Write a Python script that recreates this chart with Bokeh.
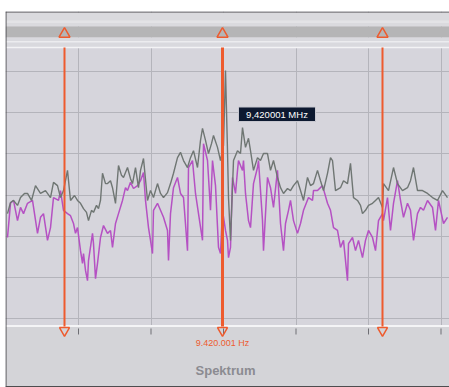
from bokeh.plotting import figure
from bokeh.models import FixedTicker, Range1d, Grid
from bokeh.core.properties import value
from bokeh.embed import file_html
from bokeh.resources import INLINE

# ---------------- data (frequency bin, level in dB) ----------------
gray_bins = [2, 5, 8, 12, 15, 19, 22, 26, 30, 35,
             40, 45, 48, 52, 55, 58, 62, 65, 69, 72,
             75, 78, 81, 83, 86, 88, 91, 93, 95, 97,
             100, 102, 105, 107, 110, 113, 116, 118, 122, 125,
             127, 130, 133, 135, 138, 142, 145, 148, 152, 155,
             158, 162, 165, 168, 172, 175, 178, 182, 185, 188,
             192, 195, 197, 200, 203, 206, 208, 212, 215, 218,
             220, 222, 223, 225, 228, 232, 235, 237, 240, 243,
             245, 248, 252, 255, 258, 262, 265, 268, 272, 275,
             278, 282, 285, 288, 292, 295, 298, 302, 305, 308,
             312, 315, 318, 322, 325, 327, 330, 335, 338, 342,
             345, 348, 352, 355, 357, 360, 363, 367, 370, 373,
             377, 378, 383, 388, 392, 397, 402, 405, 408, 412,
             417, 422, 427, 432, 437, 442]
gray_db = [-44.5, -41.8, -41.3, -42.5, -40.6, -39.6, -39.6, -41.3, -37.7, -39.6,
           -38.9, -40.6, -36.9, -37.7, -40.6, -38.9, -34.0, -41.3, -40.1, -41.3,
           -42.0, -43.3, -44.2, -46.2, -43.7, -44.2, -42.5, -43.3, -41.3, -34.7,
           -37.2, -37.2, -36.5, -38.2, -42.0, -32.8, -35.2, -35.7, -33.3, -36.0,
           -37.2, -33.3, -38.2, -34.0, -31.1, -41.3, -38.9, -40.6, -37.2, -39.6,
           -40.6, -39.4, -37.2, -34.7, -30.9, -29.6, -31.6, -33.3, -30.9, -29.2,
           -33.3, -26.7, -23.8, -26.7, -29.9, -27.5, -25.5, -28.4, -31.6, -27.9,
           -9.7, -29.2, -40.6, -51.0, -31.6, -29.2, -29.9, -23.6, -28.4, -26.2,
           -29.2, -34.0, -30.9, -31.6, -29.9, -29.9, -34.0, -31.6, -35.7, -38.2,
           -39.6, -38.4, -38.9, -37.7, -36.5, -38.9, -41.3, -35.7, -37.7, -37.2,
           -34.0, -36.5, -38.9, -34.7, -30.9, -31.6, -38.9, -38.2, -36.5, -37.2,
           -32.3, -40.6, -41.3, -42.5, -44.5, -43.7, -42.5, -42.0, -41.3, -40.6,
           -43.0, -37.2, -38.9, -33.3, -37.2, -38.9, -38.2, -36.5, -33.3, -38.9,
           -38.9, -39.6, -40.6, -41.3, -38.9, -40.6]

mag_bins = [2, 5, 8, 12, 15, 18, 22, 27, 32, 35,
            38, 42, 45, 48, 53, 55, 58, 62, 65, 68,
            70, 72, 75, 77, 78, 80, 82, 83, 87, 88,
            90, 92, 95, 98, 102, 105, 107, 110, 113, 117,
            120, 122, 125, 128, 132, 135, 138, 140, 143, 145,
            147, 148, 152, 155, 158, 162, 163, 165, 168, 172,
            175, 178, 182, 183, 187, 190, 193, 197, 198, 202,
            205, 207, 210, 213, 215, 217, 220, 222, 223, 225,
            227, 230, 232, 233, 237, 238, 240, 243, 245, 248,
            252, 253, 257, 258, 262, 265, 268, 272, 275, 278,
            280, 283, 285, 288, 292, 295, 298, 303, 307, 308,
            312, 317, 322, 325, 328, 332, 335, 338, 342, 343,
            347, 350, 353, 357, 360, 363, 367, 370, 373, 377,
            378, 382, 385, 388, 392, 395, 398, 402, 405, 408,
            412, 415, 418, 422, 427, 430, 433, 438, 442]
mag_db = [-50.3, -42.0, -41.3, -46.2, -43.0, -44.5, -42.0, -41.3, -49.3, -45.4,
          -44.5, -51.0, -47.9, -40.6, -41.3, -38.9, -43.7, -44.5, -45.0, -46.9,
          -49.3, -47.9, -53.5, -56.6, -54.2, -58.3, -60.8, -55.9, -49.3, -51.8,
          -60.3, -56.6, -50.3, -47.4, -49.3, -48.6, -52.7, -46.9, -44.5, -41.3,
          -38.2, -38.9, -36.9, -38.4, -37.7, -36.5, -34.5, -41.3, -47.9, -51.0,
          -54.2, -43.7, -42.0, -43.7, -45.4, -48.6, -55.9, -44.5, -38.2, -35.7,
          -39.6, -40.6, -53.5, -33.3, -31.6, -39.6, -44.5, -51.0, -27.5, -31.6,
          -43.7, -31.6, -37.7, -52.7, -54.2, -43.7, -48.6, -51.0, -55.2, -52.7,
          -35.7, -39.6, -34.0, -31.6, -34.0, -31.6, -39.6, -46.2, -47.9, -37.2,
          -33.3, -31.6, -46.2, -53.5, -35.7, -38.2, -43.0, -34.0, -46.9, -53.5,
          -46.9, -43.7, -41.3, -46.2, -49.3, -46.9, -43.7, -40.6, -41.3, -38.9,
          -38.9, -37.7, -42.0, -43.7, -47.9, -48.6, -52.7, -51.0, -60.8, -51.8,
          -50.3, -53.5, -51.0, -55.2, -51.0, -48.6, -50.3, -53.5, -46.2, -44.5,
          -46.2, -40.6, -48.6, -42.0, -36.5, -41.3, -45.4, -42.0, -43.7, -51.0,
          -44.5, -43.0, -43.7, -41.3, -43.0, -48.6, -41.3, -46.9, -45.4]

marker_bins = [59, 217, 377]
grid_bins = [73, 145.5, 218, 290.5, 363, 435.5]
grid_db = [-10, -20, -30, -40, -50, -60, -70]
center_label = "9.420.001 Hz"
tooltip_label = "9,420001 MHz"
panel_title = "Spektrum"

# ---------------- layout helpers ----------------
X0, X1 = 0, 444
Y_TOP, Y_BOT = 4.62, -86.76


def lvl(py):
    """vertical position of a panel element, expressed in dB units"""
    return -(py - 30) / 4.115


ORANGE = "#ee5b2e"

p = figure(width=449, height=387, x_range=Range1d(X0, X1), y_range=Range1d(Y_BOT, Y_TOP),
           output_backend="svg", toolbar_location=None,
           x_axis_location=None, y_axis_location=None,
           min_border_left=5, min_border_right=0, min_border_top=11, min_border_bottom=0,
           background_fill_color="#d6d5dc", border_fill_color="white",
           outline_line_color=None)

p.center = [r for r in p.center if not isinstance(r, Grid)]
p.add_layout(Grid(dimension=0, ticker=FixedTicker(ticks=grid_bins),
                  grid_line_color="#b4b4bb", grid_line_width=1), "center")
p.add_layout(Grid(dimension=1, ticker=FixedTicker(ticks=grid_db),
                  grid_line_color="#b4b4bb", grid_line_width=1), "center")

# top bands
p.quad(left=X0, right=X1, top=lvl(12), bottom=lvl(26), fill_color="#dadade", line_color=None)
p.quad(left=X0, right=X1, top=lvl(20), bottom=lvl(22.5), fill_color="#e3e3e6", line_color=None)
p.quad(left=X0, right=X1, top=lvl(26), bottom=lvl(37), fill_color="#b5b5b6", line_color=None)
p.quad(left=X0, right=X1, top=lvl(37), bottom=lvl(47), fill_color="#d9d9de", line_color=None)
p.quad(left=X0, right=X1, top=lvl(40.5), bottom=lvl(42), fill_color="#ececef", line_color=None)
p.segment(x0=X0, x1=X1, y0=lvl(47), y1=lvl(47), line_color="#f3f3f5", line_width=1.5)

# bottom area
p.quad(left=X0, right=X1, top=lvl(326), bottom=Y_BOT, fill_color="#d4d4d8", line_color=None)
p.segment(x0=X0, x1=X1, y0=lvl(325.5), y1=lvl(325.5), line_color="#f4f4f6", line_width=2)

# borders
p.quad(left=X0, right=X1, top=Y_TOP, bottom=lvl(12), fill_color="#4d4d4f", line_color=None)
p.quad(left=X0, right=X0 + 1, top=Y_TOP, bottom=Y_BOT, fill_color="#4d4d4f", line_color=None)
p.quad(left=X0, right=X1, top=lvl(385.5), bottom=Y_BOT, fill_color="#4d4d4f", line_color=None)

# traces
p.line(mag_bins, mag_db, line_color="#b551c3", line_width=1.5)
p.line(gray_bins, gray_db, line_color="#6f7673", line_width=1.4)

# bottom ticks
p.segment(x0=grid_bins, x1=grid_bins, y0=[lvl(328)] * len(grid_bins),
          y1=[lvl(334)] * len(grid_bins), line_color="#6e6e74", line_width=1)

# markers
p.segment(x0=marker_bins, x1=marker_bins, y0=[lvl(47)] * 3, y1=[lvl(326)] * 3,
          line_color=ORANGE, line_width=[2, 3, 2])
p.scatter(marker_bins, [lvl(33.5)] * 3, marker="triangle", size=11,
          fill_color=None, line_color=ORANGE, line_width=1.5)
p.scatter(marker_bins, [lvl(330)] * 3, marker="inverted_triangle", size=10,
          fill_color=None, line_color=ORANGE, line_width=1.5)

# labels
p.text(x=[marker_bins[1]], y=[lvl(343)], text=[center_label],
       text_font=value("Liberation Sans"), text_font_size="9px",
       text_color="#ee5b30", text_align="center", text_baseline="middle")
p.text(x=[220], y=[lvl(370.5)], text=[panel_title],
       text_font=value("Liberation Sans"), text_font_size="13px", text_font_style="bold",
       text_color="#8b8b91", text_align="center", text_baseline="middle")

p.quad(left=233, right=310, top=lvl(106.5), bottom=lvl(121), fill_color="#0d1930",
       line_color="#c8c8d0", line_width=1)
p.text(x=[271.5], y=[lvl(114)], text=[tooltip_label],
       text_font=value("Liberation Sans"), text_font_size="9.5px",
       text_color="white", text_align="center", text_baseline="middle")

open("out.html", "w").write(file_html(p, INLINE))
